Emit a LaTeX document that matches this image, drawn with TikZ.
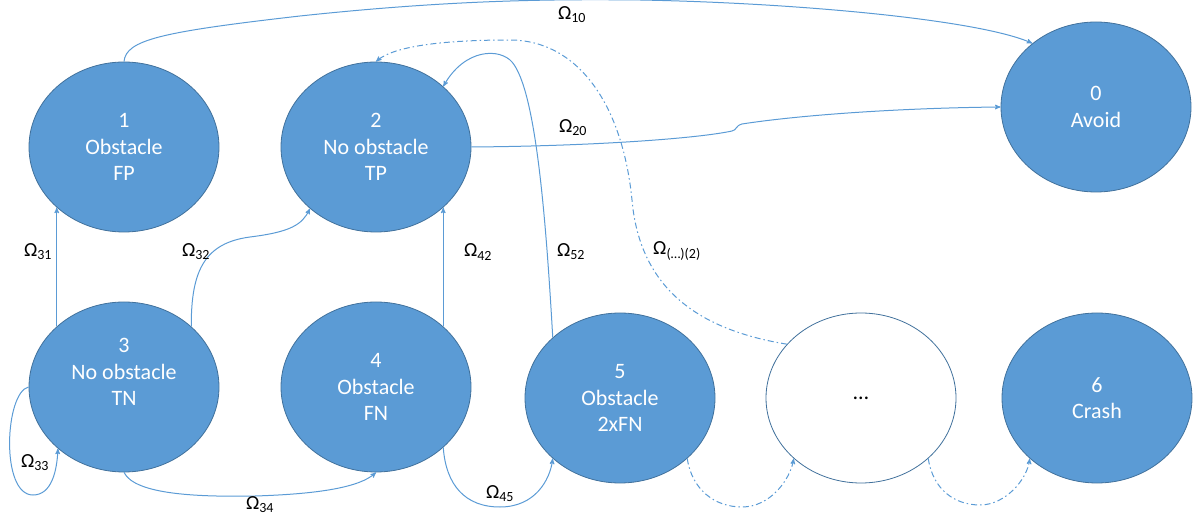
\documentclass[tikz,border=0pt]{standalone}
\usepackage{fontspec}
\setmainfont{Carlito}
\usepackage{tikz}
\usetikzlibrary{arrows,automata,shapes.geometric}
\definecolor{stateblue}{HTML}{5B9BD5}
\definecolor{stateedge}{HTML}{41719C}

\begin{document}
\begin{tikzpicture}[->,>=stealth',x=1pt,y=-1pt,node distance=252pt,
                    line width=1pt,color=stateblue]
  \tikzstyle{every state}=[ellipse,fill=stateblue,draw=stateedge,line width=0.8pt,
    text=white,minimum width=190pt,minimum height=170pt,inner sep=0pt,
    align=center,font=\fontsize{22}{26.5}\selectfont]
  \tikzstyle{blank state}=[fill=white,text=black]
  \tikzstyle{guess}=[dash pattern=on 6pt off 3pt on 1.5pt off 3pt]
  \tikzstyle{omega}=[font=\fontsize{20}{24}\selectfont,text=black]
  \useasboundingbox (0,0) rectangle (1197,518);

  \node[state]             (A1) at (124,147)   {1\\Obstacle\\FP};
  \node[state]             (A2) [right of=A1]  {2\\No obstacle\\TP};
  \node[state,text depth=30pt] (A3) at (124,387) {3\\No obstacle\\TN};
  \node[state]             (A4) [right of=A3]  {4\\Obstacle\\FN};
  \node[state]             (A5) at (620,398)   {5\\Obstacle\\2xFN};
  \node[state,blank state] (Ad) at (861,398)   {…};
  \node[state]             (A6) at (1097,398)  {6\\Crash};
  \node[state]             (A0) at (1096,107)  {0\\Avoid};

  \draw (A1.north) .. controls (126,40) and (160,32) .. (300,16)
                   .. controls (450,0) and (550,-1) .. (640,0)
                   .. controls (800,3) and (980,20) .. (A0.135);
  \draw (A2.east) .. controls (600,146) and (700,138) .. (732,131)
                  .. controls (737,130) and (735,126) .. (742,124)
                  .. controls (800,115) and (900,108) .. (A0.west);
  \draw (A3.138) -- (A1.222);
  \draw (A4.42) -- (A2.318);
  \draw (A3.42) .. controls (191,270) and (205,243) .. (250,237)
                .. controls (290,232) and (302,225) .. (A2.223);
  \draw (A5.138) .. controls (546,220) and (536,90) .. (512,62)
                 .. controls (500,48) and (465,48) .. (A2.42);
  \draw[guess] (Ad.144) .. controls (700,330) and (640,290) .. (632,200)
                        .. controls (622,100) and (575,40) .. (510,40)
                        .. controls (450,40) and (395,45) .. (A2.north);
  \draw (A3.west) .. controls (5,392) and (0,495) .. (33,495)
                  .. controls (52,495) and (57,470) .. (A3.223);
  \draw (A3.south) .. controls (135,495) and (200,497) .. (255,496)
                   .. controls (320,494) and (360,487) .. (A4.south);
  \draw (A4.-42) .. controls (446,485) and (465,507) .. (500,507)
                 .. controls (535,507) and (550,480) .. (A5.222);
  \draw[guess] (A5.-42) .. controls (692,490) and (715,507) .. (742,507)
                        .. controls (770,507) and (790,480) .. (Ad.222);
  \draw[guess] (Ad.-42) .. controls (933,490) and (955,505) .. (980,505)
                        .. controls (1005,505) and (1027,480) .. (A6.222);

  \node[omega] (w10) at (572,15)  {Ω\textsubscript{10}};
  \node[omega] (w20) at (573,128) {Ω\textsubscript{20}};
  \node[omega] (w31) at (38,252)  {Ω\textsubscript{31}};
  \node[omega] (w32) at (196,252) {Ω\textsubscript{32}};
  \node[omega] (w42) at (478,252) {Ω\textsubscript{42}};
  \node[omega] (w52) at (571,252) {Ω\textsubscript{52}};
  \node[omega] (wd2) at (677,251) {Ω\textsubscript{(…)(2)}};
  \node[omega] (w33) at (35,463)  {Ω\textsubscript{33}};
  \node[omega] (w34) at (260,505) {Ω\textsubscript{34}};
  \node[omega] (w45) at (500,494) {Ω\textsubscript{45}};

\end{tikzpicture}
\end{document}
